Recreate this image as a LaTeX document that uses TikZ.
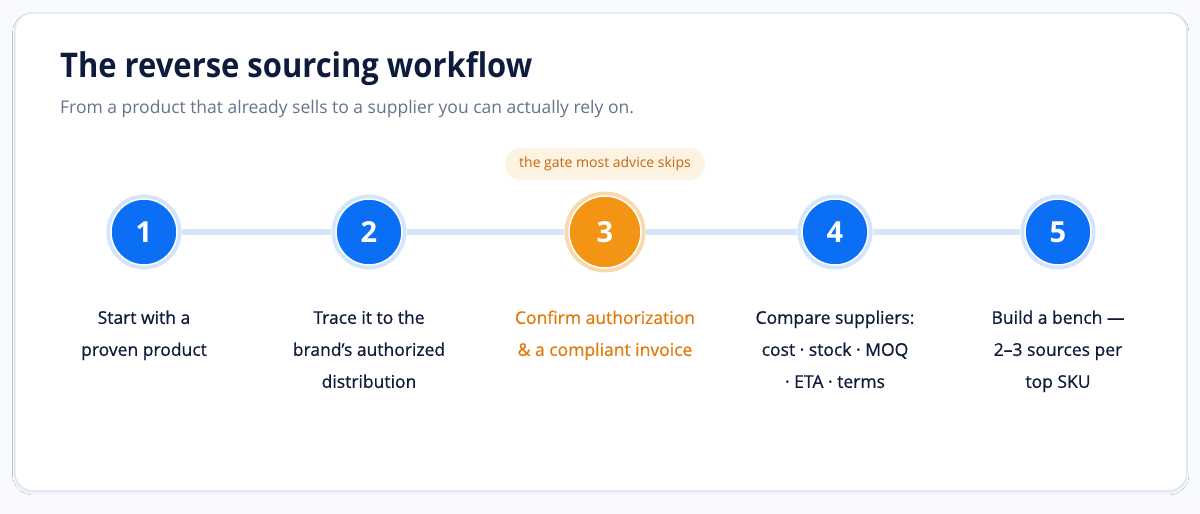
\documentclass[tikz,border=0pt]{standalone}
\usepackage{fontspec}
\setmainfont{Open Sans}
\usetikzlibrary{shadows.blur}
\definecolor{pagebg}{HTML}{F8FAFD}
\definecolor{cardborder}{HTML}{DCE7F7}
\definecolor{navy}{HTML}{0F1B3D}
\definecolor{subgray}{HTML}{64748B}
\definecolor{stepblue}{HTML}{0B6FF5}
\definecolor{ringblue}{HTML}{D3E5FC}
\definecolor{lineblue}{HTML}{D6E7FD}
\definecolor{steporange}{HTML}{F39414}
\definecolor{ringorange}{HTML}{FAD9AC}
\definecolor{badgebg}{HTML}{FDF3E2}
\definecolor{badgetext}{HTML}{C9650C}
\definecolor{labelorange}{HTML}{E27A0C}
\tikzset{
  stepcircle/.style={circle, fill=stepblue, draw=white, line width=1.5pt, preaction={draw=ringblue, line width=9pt}, minimum size=66pt, inner sep=0pt, text=white, font=\fontsize{29}{32}\selectfont\bfseries},
  gatecircle/.style={circle, fill=steporange, draw=white, line width=1.5pt, preaction={draw=ringorange, line width=9pt}, minimum size=72pt, inner sep=0pt, text=white, font=\fontsize{29}{32}\selectfont\bfseries},
  steplabel/.style={align=center, text=navy, font=\fontsize{17.5}{32}\selectfont\addfontfeature{FakeBold=0.7}, anchor=north},
  connector/.style={draw=lineblue, line width=6pt}
}
\begin{document}
\begin{tikzpicture}[x=1pt,y=-1pt]
\useasboundingbox (0,0) rectangle (1200,514);
\fill[pagebg] (0,0) rectangle (1200,514);
\node[draw=cardborder, line width=1.5pt, fill=white, rounded corners=18pt, minimum width=1172pt, minimum height=478pt, anchor=north west, blur shadow={shadow blur steps=8, shadow xshift=0pt, shadow yshift=-2pt, shadow opacity=8}] (card) at (14,12) {};
\node[anchor=base west, text=navy, font=\fontsize{34}{40}\selectfont\bfseries\addfontfeature{FakeStretch=0.91}, inner sep=0pt] (title) at (60,77) {The reverse sourcing workflow};
\node[anchor=base west, text=subgray, font=\fontsize{17.5}{20}\selectfont, inner sep=0pt] (subtitle) at (60,113) {From a product that already sells to a supplier you can actually rely on.};
\node[stepcircle] (s1) at (144,232) {1};
\node[stepcircle] (s2) at (369,232) {2};
\node[gatecircle] (s3) at (605,232) {3};
\node[stepcircle] (s4) at (835,232) {4};
\node[stepcircle] (s5) at (1058,232) {5};
\draw[connector, shorten <=4pt, shorten >=4pt] (s1) -- (s2);
\draw[connector, shorten <=4pt, shorten >=4pt] (s2) -- (s3);
\draw[connector, shorten <=4pt, shorten >=4pt] (s3) -- (s4);
\draw[connector, shorten <=4pt, shorten >=4pt] (s4) -- (s5);
\node[fill=badgebg, rounded corners=16pt, minimum width=200pt, minimum height=32pt, text=badgetext, font=\fontsize{14}{16}\selectfont] (badge) at (605,164) {the gate most advice skips};
\node[steplabel] (l1) at (144,307) {Start with a\\proven product};
\node[steplabel] (l2) at (369,307) {Trace it to the\\brand’s authorized\\distribution};
\node[steplabel, text=labelorange] (l3) at (605,307) {Confirm authorization\\\& a compliant invoice};
\node[steplabel] (l4) at (835,307) {Compare suppliers:\\cost · stock · MOQ\\· ETA · terms};
\node[steplabel] (l5) at (1058,307) {Build a bench —\\2–3 sources per\\top SKU};
\end{tikzpicture}
\end{document}
